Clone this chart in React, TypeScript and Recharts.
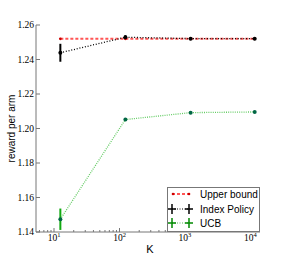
import React from "react";
import {
  ComposedChart, Line, XAxis, YAxis, ErrorBar, Legend, Label,
} from "recharts";

const kValues = [12.5, 123, 1220, 11600];
const upperBound = [1.252, 1.252, 1.252, 1.252];
const indexMean = [1.2439, 1.2529, 1.2521, 1.2521];
const indexErr = [0.0052, 0.0012, 0.0004, 0.0003];
const ucbMean = [1.1474, 1.2052, 1.2092, 1.2096];
const ucbErr = [0.0062, 0.0009, 0.0004, 0.0003];

const majorK = [10, 100, 1000, 10000];
const minorK = [6, 7, 8, 9, 20, 30, 40, 50, 60, 70, 80, 90, 200, 300, 400, 500, 600, 700, 800, 900,
  2000, 3000, 4000, 5000, 6000, 7000, 8000, 9000];
const yTicks = [1.14, 1.16, 1.18, 1.2, 1.22, 1.24, 1.26];

const data = kValues.map((k, i) => ({
  k,
  upper: upperBound[i],
  index: indexMean[i],
  indexErr: indexErr[i],
  ucb: ucbMean[i],
  ucbErr: ucbErr[i],
}));

const FRAME = "#777";
const SERIF = "'Liberation Serif', 'DejaVu Serif', serif";
const SANS = "'Liberation Sans', Arial, sans-serif";

const BottomTick = ({ x, y, payload }: any) => {
  const major = majorK.includes(payload.value);
  const exp = Math.round(Math.log10(payload.value));
  return (
    <g>
      <line x1={x} x2={x} y1={y} y2={y - (major ? 4 : 2)} stroke={FRAME} />
      {major && (
        <text x={x} y={y + 9} textAnchor="middle" fontFamily={SERIF} fontSize={9.5} fill="#000">
          10<tspan dy={-4} fontSize={6.5}>{exp}</tspan>
        </text>
      )}
    </g>
  );
};

const TopTick = ({ x, y, payload }: any) => {
  const major = majorK.includes(payload.value);
  return <line x1={x} x2={x} y1={y} y2={y + (major ? 4 : 2)} stroke={FRAME} />;
};

const LeftTick = ({ x, y, payload }: any) => (
  <g>
    <line x1={x} x2={x + 4} y1={y} y2={y} stroke={FRAME} />
    <text x={x - 2} y={y + 3} textAnchor="end" fontFamily={SERIF} fontSize={9.5} fill="#000">
      {payload.value.toFixed(2)}
    </text>
  </g>
);

const RightTick = ({ x, y }: any) => (
  <line x1={x} x2={x - 4} y1={y} y2={y} stroke={FRAME} />
);

const LegendBox = () => (
  <svg width={93} height={45} style={{ display: "block" }}>
    <rect x={0.5} y={0.5} width={92} height={44} fill="#fff" stroke={FRAME} />
    <line x1={5} x2={22} y1={7} y2={7} stroke="#f55" strokeWidth={2} strokeDasharray="3 2" />
    <circle cx={6} cy={7} r={1.3} fill="#c00" />
    <circle cx={22} cy={7} r={1.3} fill="#c00" />
    <text x={33} y={10.5} fontFamily={SANS} fontSize={10} fill="#000">Upper bound</text>

    <line x1={5} x2={22} y1={22} y2={22} stroke="#000" strokeWidth={1.2} strokeDasharray="1 1.5" />
    {[5, 22].map((cx) => (
      <g key={cx}>
        <line x1={cx - 4} x2={cx + 4} y1={22} y2={22} stroke="#000" strokeWidth={1.5} />
        <line x1={cx} x2={cx} y1={17} y2={27} stroke="#000" strokeWidth={1.5} />
      </g>
    ))}
    <text x={33} y={25.5} fontFamily={SANS} fontSize={10} fill="#000">Index Policy</text>

    <line x1={5} x2={22} y1={36} y2={36} stroke="#5b5" strokeWidth={1.2} strokeDasharray="1 1.5" />
    {[5, 22].map((cx) => (
      <g key={cx}>
        <line x1={cx - 4} x2={cx + 4} y1={36} y2={36} stroke="#080" strokeWidth={1.5} />
        <line x1={cx} x2={cx} y1={31} y2={41} stroke="#080" strokeWidth={1.5} />
      </g>
    ))}
    <text x={33} y={39.5} fontFamily={SANS} fontSize={10} fill="#000">UCB</text>
  </svg>
);

const YTitle = ({ viewBox }: any) => {
  const cx = 11;
  const cy = viewBox.y + viewBox.height / 2;
  return (
    <text x={cx} y={cy} transform={`rotate(-90 ${cx} ${cy})`} textAnchor="middle"
      dominantBaseline="central" fontFamily={SANS} fontSize={10} fill="#000">
      reward per arm
    </text>
  );
};

export default function App() {
  return (
    <div style={{ position: "absolute", left: 0, top: 0, background: "#fff" }}>
      <ComposedChart width={290} height={258} data={data}
        margin={{ top: 25, right: 30, bottom: 0, left: 0 }}>
        <XAxis dataKey="k" type="number" scale="log" domain={[5.31, 13970]} allowDataOverflow
          ticks={[...majorK, ...minorK]} interval={0} tick={<BottomTick />} tickLine={false}
          tickSize={0} tickMargin={0} height={26} axisLine={{ stroke: FRAME }}>
          <Label value="K" position="insideBottom" offset={5} dx={2}
            style={{ fontFamily: SANS, fontSize: 11, fill: "#000" }} />
        </XAxis>
        <XAxis xAxisId="top" orientation="top" dataKey="k" type="number" scale="log"
          domain={[5.31, 13970]} allowDataOverflow ticks={[...majorK, ...minorK]} interval={0}
          tick={<TopTick />} tickLine={false} tickSize={0} tickMargin={0} height={0}
          axisLine={{ stroke: FRAME }} />
        <YAxis type="number" domain={[1.14, 1.26]} allowDataOverflow ticks={yTicks} interval={0}
          tick={<LeftTick />} tickLine={false} tickSize={0} tickMargin={0} width={36}
          axisLine={{ stroke: FRAME }}>
          <Label content={<YTitle />} />
        </YAxis>
        <YAxis yAxisId="right" orientation="right" type="number" domain={[1.14, 1.26]}
          allowDataOverflow ticks={yTicks} interval={0} tick={<RightTick />} tickLine={false}
          tickSize={0} tickMargin={0} width={0} axisLine={{ stroke: FRAME }} />

        <Line dataKey="upper" stroke="#f55" strokeWidth={2} strokeDasharray="3 2"
          dot={{ r: 1.4, fill: "#c00", stroke: "none" }} isAnimationActive={false} />
        <Line dataKey="index" stroke="#000" strokeWidth={1.3} strokeDasharray="1 1.8"
          dot={{ r: 2, fill: "#000", stroke: "none" }} isAnimationActive={false}>
          <ErrorBar dataKey="indexErr" direction="y" width={0} stroke="#000" strokeWidth={2} />
        </Line>
        <Line dataKey="ucb" stroke="#6c6" strokeWidth={1.3} strokeDasharray="1 1.2"
          dot={{ r: 2, fill: "#064", stroke: "none" }} isAnimationActive={false}>
          <ErrorBar dataKey="ucbErr" direction="y" width={0} stroke="#1a1" strokeWidth={2} />
        </Line>

        <Legend layout="vertical" align="center" verticalAlign="middle" content={<LegendBox />}
          wrapperStyle={{ position: "absolute", left: 167, top: 187, width: 93, height: 45 }} />
      </ComposedChart>
    </div>
  );
}
